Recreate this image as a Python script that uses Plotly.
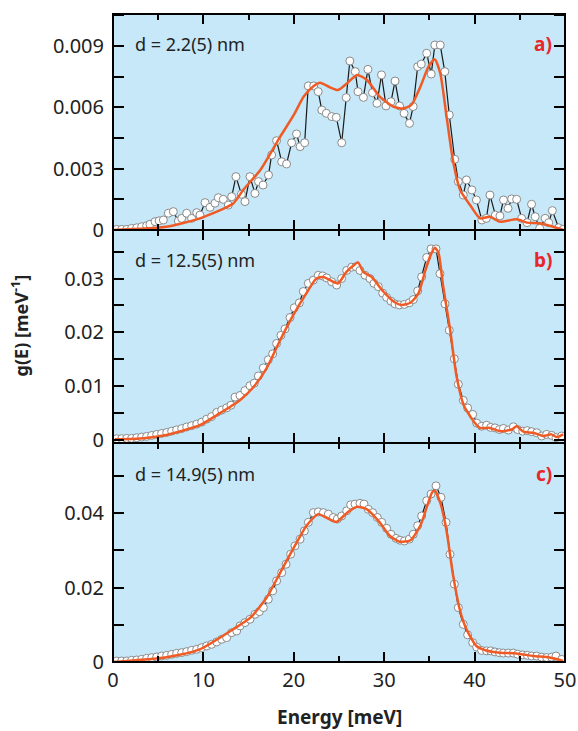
import plotly.graph_objects as go
from plotly.subplots import make_subplots

# ---- measured g(E), panel a (d = 2.2 nm), energy in meV, g in 1e-3 / meV ----
e_a = [0.41, 0.96, 1.51, 2.06, 2.62, 3.17, 3.72, 4.09, 4.65, 5.1, 5.57, 6.12, 6.67, 7.23, 7.6, 8.15,
       8.7, 9.26, 9.62, 10.18, 10.73, 11.28, 11.65, 12.2, 12.76, 13.13, 13.6, 14.2, 14.6, 15.15, 15.7,
       16.1, 16.6, 17.2, 17.55, 18.1, 18.66, 19.2, 19.76, 20.3, 20.7, 21.2, 21.6, 22.2, 22.7, 23.1,
       23.6, 24.2, 24.7, 25.3, 25.8, 26.2, 26.8, 27.1, 27.7, 28.2, 28.7, 29.2, 29.7, 30.2, 30.75, 31.2,
       31.7, 32.2, 32.8, 33.2, 33.7, 34.1, 34.7, 35.2, 35.6, 36.2, 36.7, 37.2, 37.8, 38.2, 38.75, 39.1,
       39.7, 40.2, 40.8, 41.3, 41.7, 42.3, 42.8, 43.2, 43.7, 44.1, 44.65, 45.2, 45.8, 46.3, 46.7, 47.2,
       47.8, 48.2, 48.6, 49.3, 49.8]
g_a = [0.03, 0.03, 0.03, 0.08, 0.11, 0.16, 0.21, 0.28, 0.41, 0.45, 0.49, 0.82, 0.90, 0.44, 0.57, 0.82,
       0.57, 0.85, 0.73, 1.34, 1.11, 1.31, 1.58, 1.50, 1.22, 1.63, 2.61, 1.75, 1.39, 2.61, 1.79,
       2.37, 2.20, 2.69, 3.67, 4.37, 3.34, 3.23, 4.27, 4.70, 4.08, 4.27, 7.05, 7.05, 6.77, 5.87,
       5.71, 5.55, 5.51, 4.27, 6.48, 8.27, 7.75, 6.77, 6.49, 7.86, 6.72, 6.20, 7.59, 6.07, 6.28, 7.29,
       6.07, 5.71, 5.22, 6.04, 7.99, 8.12, 8.65, 7.63, 9.05, 9.05, 7.75, 5.63, 3.46, 2.37, 1.71, 2.45,
       1.96, 1.47, 0.49, 0.57, 1.71, 0.73, 0.69, 1.47, 1.06, 1.52, 1.50, 0.57, 0.36, 1.26, 0.65, 0.08,
       0.57, 0.36, 0.95, 0.11, 0.03]

# ---- calculated g(E), panel a ----
ec_a = [0.0, 5.9, 9.6, 13.3, 14.4, 16.3, 18.5, 20.0, 21.1, 22.2, 22.9, 24.0, 24.9, 25.9, 27.0, 28.1,
        29.5, 31.0, 32.1, 33.0, 34.0, 34.9, 35.6, 36.2, 36.9, 37.6, 38.4, 39.5, 40.6, 41.7, 42.8,
        44.65, 45.8, 47.2, 48.7, 49.8]
gc_a = [0.0, 0.16, 0.57, 1.30, 1.96, 2.94, 4.57, 5.63, 6.53, 7.05, 7.21, 6.98, 6.85, 7.18, 7.59, 7.34,
        6.53, 6.04, 5.95, 6.12, 7.01, 7.99, 8.35, 7.67, 5.55, 3.43, 1.96, 1.22, 0.57, 0.65, 0.41,
        0.52, 0.36, 0.33, 0.16, 0.0]

# ---- measured g(E), panel b (d = 12.5 nm) ----
e_b = [0.41, 0.96, 1.51, 2.06, 2.62, 3.17, 3.72, 4.28, 4.83, 5.38,
       5.94, 6.49, 7.04, 7.60, 8.15, 8.70, 9.26, 9.81, 10.36, 10.91,
       11.47, 12.02, 12.57, 13.05, 13.50, 14.05, 14.60, 15.15, 15.63, 16.08,
       16.63, 17.18, 17.66, 18.10, 18.58, 19.03, 19.58, 20.06, 20.61, 21.05,
       21.61, 22.16, 22.71, 23.19, 23.63, 24.19, 24.74, 25.29, 25.85, 26.40,
       26.88, 27.32, 27.88, 28.43, 28.87, 29.35, 29.83, 30.27, 30.75, 31.19,
       31.67, 32.23, 32.78, 33.22, 33.70, 34.14, 34.70, 35.18, 35.73, 36.17,
       36.73, 37.20, 37.76, 38.20, 38.75, 39.23, 39.79, 40.23, 40.78, 41.33,
       41.78, 42.26, 42.74, 43.18, 43.73, 44.29, 44.76, 45.32, 45.83, 46.31,
       46.87, 47.42, 47.97, 48.53, 49.00, 49.63]
g_b = [0.30, 0.30, 0.36, 0.36, 0.48, 0.60, 0.72, 0.90, 1.08, 1.27,
       1.45, 1.69, 1.93, 2.17, 2.47, 2.71, 3.01, 3.37, 3.92, 4.40,
       5.18, 5.60, 6.02, 6.51, 8.01, 8.31, 9.22, 10.12, 10.60, 11.93,
       13.43, 14.94, 16.02, 17.95, 19.46, 20.66, 22.77, 24.58, 25.48, 27.59,
       29.10, 29.70, 30.60, 30.48, 30.12, 29.40, 28.80, 30.0, 31.5, 32.1,
       32.2, 31.5, 30.6, 30.0, 29.1, 28.5, 27.3, 26.5, 25.8, 25.3,
       25.1, 25.2, 25.5, 26.1, 27.7, 30.3, 33.9, 35.5, 35.5, 30.9,
       25.3, 20.4, 15.1, 10.4, 7.4, 6.0, 4.8, 3.2, 2.6, 2.8,
       2.4, 2.3, 2.0, 2.2, 1.9, 2.5, 2.0, 1.7, 1.8, 1.6,
       1.4, 0.8, 1.1, 0.9, 0.5, 0.8]

# ---- calculated g(E), panel b ----
ec_b = [0.2, 3.4, 5.9, 9.6, 11.5, 14.0, 15.5, 17.0, 18.5, 20.0, 21.4, 22.5, 23.3, 24.0, 24.9, 25.8,
        26.6, 27.1, 27.7, 28.6, 29.9, 31.0, 31.9, 32.9, 33.8, 34.5, 35.1, 35.6, 36.0, 36.5, 37.3,
        38.0, 38.8, 39.9, 40.6, 41.7, 42.8, 44.1, 44.65, 45.4, 46.5, 47.6, 48.5, 49.1, 49.8]
gc_b = [0.2, 0.4, 1.0, 2.8, 4.7, 7.4, 9.8, 13.4, 18.6, 23.4, 27.3, 30.0, 30.3, 29.7, 29.1, 31.2,
        32.4, 33.0, 31.2, 30.3, 27.6, 25.8, 25.1, 25.5, 27.3, 31.2, 34.2, 35.7, 34.8, 28.8, 20.4,
        11.9, 6.5, 3.5, 2.3, 2.3, 1.7, 2.0, 2.6, 1.6, 1.4, 0.8, 1.1, 0.6, 1.1]

# ---- measured g(E), panel c (d = 14.9 nm) ----
e_c = [0.41, 0.96, 1.51, 2.06, 2.62, 3.17, 3.72, 4.28, 4.83, 5.38,
       5.94, 6.49, 7.04, 7.60, 8.15, 8.70, 9.26, 9.81, 10.36, 10.91,
       11.47, 12.02, 12.57, 13.13, 13.68, 14.05, 14.60, 15.15, 15.71, 16.19,
       16.63, 17.18, 17.66, 18.10, 18.66, 19.14, 19.65, 20.13, 20.69, 21.17,
       21.61, 22.16, 22.71, 23.27, 23.82, 24.37, 24.82, 25.29, 25.85, 26.29,
       26.77, 27.32, 27.77, 28.24, 28.72, 29.24, 29.72, 30.27, 30.75, 31.31,
       31.75, 32.23, 32.78, 33.22, 33.70, 34.14, 34.70, 35.18, 35.73, 36.28,
       36.84, 37.28, 37.76, 38.20, 38.75, 39.23, 39.79, 40.23, 40.78, 41.33,
       41.78, 42.26, 42.74, 43.18, 43.73, 44.29, 44.76, 45.32, 45.83, 46.31,
       46.87, 47.42, 47.97, 48.53, 49.00, 49.63]
g_c = [0.27, 0.27, 0.27, 0.45, 0.54, 0.72, 0.99, 1.17, 1.34, 1.61,
       1.79, 2.06, 2.33, 2.51, 2.78, 3.14, 3.41, 3.85, 4.30, 4.75,
       5.38, 6.09, 6.54, 7.89, 8.33, 9.68, 10.57, 11.47, 12.81, 13.53,
       14.61, 16.85, 19.09, 21.77, 24.0, 26.25, 28.94, 31.18, 32.97, 35.2,
       37.5, 40.1, 40.3, 40.1, 39.7, 38.8, 38.4, 39.2, 40.6, 42.2,
       42.4, 42.6, 42.4, 41.0, 40.1, 38.8, 37.5, 35.9, 34.3, 33.2,
       32.7, 32.5, 33.0, 34.3, 36.6, 39.2, 43.3, 45.1, 47.3, 44.2,
       37.5, 28.9, 20.9, 14.6, 10.1, 7.3, 5.2, 4.0, 3.1, 3.0,
       3.0, 2.7, 2.5, 2.4, 2.4, 2.4, 2.1, 1.9, 1.8, 1.6,
       1.6, 1.3, 1.2, 1.3, 1.6, 0.7]

# ---- calculated g(E), panel c ----
ec_c = [0.0, 5.9, 9.6, 13.3, 15.2, 17.0, 18.5, 20.0, 21.4, 22.7, 23.6, 24.7, 25.9, 27.0, 28.1, 29.5,
        30.6, 31.7, 32.9, 34.0, 34.7, 35.3, 35.6, 36.2, 36.9, 37.6, 38.4, 39.1, 40.2, 41.3, 42.8,
        44.65, 46.5, 48.3, 49.8]
gc_c = [0.0, 1.3, 3.4, 8.8, 11.9, 17.3, 24.0, 30.7, 36.6, 39.7, 38.8, 37.6, 40.1, 41.7, 41.0, 37.5,
        33.9, 32.3, 32.7, 36.6, 41.5, 45.5, 46.0, 42.8, 35.2, 23.6, 13.7, 8.8, 4.3, 3.1, 2.5,
        2.3, 1.6, 1.2, 0.3]

labels = ["d = 2.2(5) nm", "d = 12.5(5) nm", "d = 14.9(5) nm"]
tags = ["a)", "b)", "c)"]

BG = "#c6e8f8"
ORANGE = "#f05a24"
RED = "#e8262a"
FONT = "Noto Sans"

fig = make_subplots(rows=3, cols=1, shared_xaxes=False, vertical_spacing=0,
                    row_heights=[216, 213, 219])

panels = [(e_a, g_a, ec_a, gc_a), (e_b, g_b, ec_b, gc_b), (e_c, g_c, ec_c, gc_c)]
for i, (e, g, ec, gc) in enumerate(panels, start=1):
    fig.add_trace(go.Scatter(
        x=e, y=[v * 1e-3 for v in g], mode="lines+markers",
        line=dict(color="#1a1a1a", width=1.2),
        marker=dict(size=8, color="white", line=dict(color="#8a8a8a", width=1)),
        showlegend=False), row=i, col=1)
    fig.add_trace(go.Scatter(
        x=ec, y=[v * 1e-3 for v in gc], mode="lines",
        line=dict(color=ORANGE, width=2.5, shape="spline", smoothing=0.6),
        showlegend=False), row=i, col=1)

yranges = [[0, 0.01057], [-0.0005, 0.039], [0, 0.0588]]
ydticks = [0.003, 0.01, 0.02]
for i in range(1, 4):
    fig.update_xaxes(range=[0, 50], dtick=10, tick0=0, ticks="inside", ticklen=10, tickwidth=1.5,
                     tickcolor="black", showline=False, mirror="allticks",
                     showgrid=False, zeroline=False, automargin=False,
                     showticklabels=(i == 3),
                     minor=dict(dtick=5, tick0=0, ticks="inside", ticklen=6, tickwidth=1.5,
                                tickcolor="black", showgrid=False),
                     tickfont=dict(family=FONT, size=20, color="#222"),
                     ticklabelstandoff=4,
                     row=i, col=1)
    d = ydticks[i - 1]
    fig.update_yaxes(range=yranges[i - 1], dtick=d, tick0=0, ticks="inside", ticklen=11,
                     tickwidth=1.5, tickcolor="black", showline=False, mirror="allticks",
                     showgrid=False, zeroline=False, automargin=False,
                     minor=dict(dtick=d / 2, tick0=0, ticks="inside", ticklen=11, tickwidth=1.5,
                                tickcolor="black", showgrid=False),
                     tickfont=dict(family=FONT, size=20, color="#222"),
                     ticklabelstandoff=8,
                     row=i, col=1)

anns = []
shapes = []
for i, (lab, tag) in enumerate(zip(labels, tags), start=1):
    yref = "y domain" if i == 1 else f"y{i} domain"
    xref = "x domain" if i == 1 else f"x{i} domain"
    anns.append(dict(text=lab, x=0.045, y=0.86, xref=xref, yref=yref, xanchor="left",
                     yanchor="middle", showarrow=False,
                     font=dict(family=FONT, size=18, color="#222")))
    anns.append(dict(text=f"<b>{tag}</b>", x=0.975, y=0.86, xref=xref, yref=yref, xanchor="right",
                     yanchor="middle", showarrow=False,
                     font=dict(family=FONT, size=19, color=RED)))
    # panel frame
    shapes.append(dict(type="rect", xref=xref, yref=yref, x0=0, x1=1, y0=0, y1=1,
                       line=dict(color="black", width=2), fillcolor="rgba(0,0,0,0)",
                       layer="above"))
anns.append(dict(text="<b>g(E) [meV<sup>-1</sup>]</b>", x=-0.205, y=0.52, xref="paper", yref="paper",
                 textangle=-90, showarrow=False, xanchor="center", yanchor="middle",
                 font=dict(family=FONT, size=18, color="#222")))
anns.append(dict(text="<b>Energy [meV]</b>", x=0.5, y=-0.085, xref="paper", yref="paper",
                 showarrow=False, xanchor="center", yanchor="middle",
                 font=dict(family=FONT, size=19, color="#222")))

fig.update_layout(width=578, height=731, margin=dict(l=113, r=13, t=14, b=69),
                  paper_bgcolor="white", plot_bgcolor=BG, annotations=anns, shapes=shapes)

fig.write_html("out.html")
